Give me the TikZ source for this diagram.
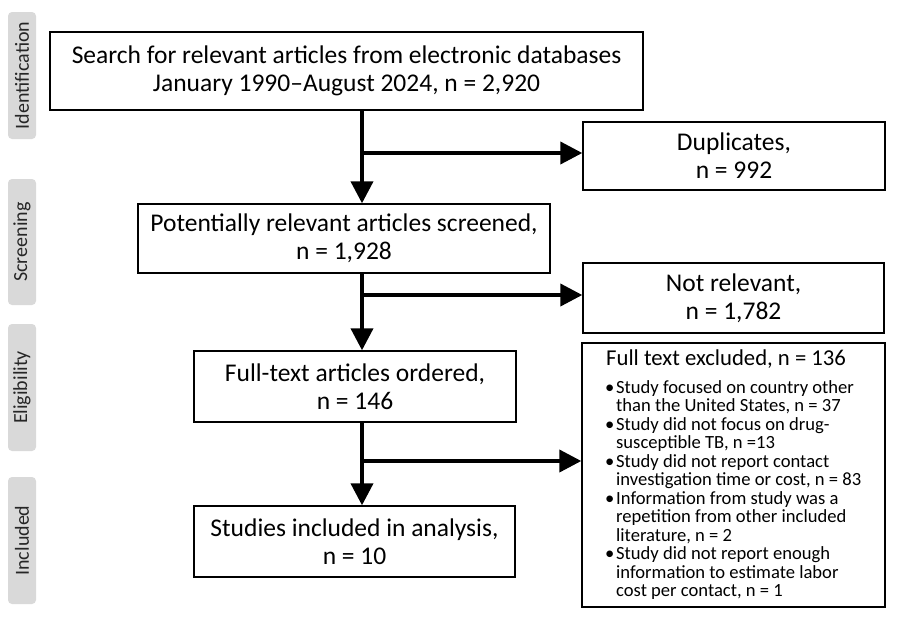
\documentclass[tikz,border=0pt]{standalone}
\usepackage{fontspec}
\setmainfont{Carlito}
\usetikzlibrary{arrows.meta}
\begin{document}
\begin{tikzpicture}[x=1pt,y=-1pt,
  box/.style={draw=black,line width=1.4pt,align=center,font=\fontsize{25.5}{28}\selectfont,inner sep=0pt},
  tab/.style={fill=black!15,rounded corners=4pt,minimum height=28pt,rotate=90,font=\fontsize{20}{22}\selectfont,text=black!85,inner sep=0pt},
  arr/.style={line width=4pt,-{Triangle[length=22pt,width=22pt]}},
  ln/.style={line width=4pt}]
\useasboundingbox (0,0) rectangle (900,619);
\node[tab,minimum width=127pt] (t1) at (22,75.5) {Identification};
\node[tab,minimum width=126pt] (t2) at (22,242) {Screening};
\node[tab,minimum width=127pt] (t3) at (22,387.5) {Eligibility};
\node[tab,minimum width=127pt] (t4) at (22,540.5) {Included};
\node[box,minimum width=593pt,minimum height=78pt] (b1) at (346.5,71) {Search for relevant articles from electronic databases\\January 1990--August 2024, n = 2,920};
\node[box,minimum width=302pt,minimum height=68pt] (d) at (734,156) {Duplicates,\\n = 992};
\node[box,minimum width=412pt,minimum height=69pt] (b2) at (344,238.5) {Potentially relevant articles screened,\\n = 1,928};
\node[box,minimum width=301pt,minimum height=70pt] (nr) at (733.5,298) {Not relevant,\\n = 1,782};
\node[box,minimum width=322pt,minimum height=71pt] (b3) at (355,386.5) {Full-text articles ordered,\\n = 146};
\node[box,minimum width=303pt,minimum height=264pt] (ex) at (733.5,475) {};
\node[box,minimum width=321pt,minimum height=71pt] (b4) at (354.5,541.5) {Studies included in analysis,\\n = 10};
\node[anchor=north west,align=left,inner sep=0pt,font=\fontsize{22.7}{26}\selectfont] (exh) at (606,350) {Full text excluded, n = 136};
\node[anchor=north west,align=left,inner sep=0pt,font=\fontsize{18.6}{18.5}\selectfont] (exl) at (605,380) {%
\makebox[11pt][l]{\textbullet}Study focused on country other\\
\hspace*{11pt}than the United States, n = 37\\
\makebox[11pt][l]{\textbullet}Study did not focus on drug-\\
\hspace*{11pt}susceptible TB, n =13\\
\makebox[11pt][l]{\textbullet}Study did not report contact\\
\hspace*{11pt}investigation time or cost, n = 83\\
\makebox[11pt][l]{\textbullet}Information from study was a\\
\hspace*{11pt}repetition from other included\\
\hspace*{11pt}literature, n = 2\\
\makebox[11pt][l]{\textbullet}Study did not report enough\\
\hspace*{11pt}information to estimate labor\\
\hspace*{11pt}cost per contact, n = 1};
\coordinate (c1) at (362,153);
\coordinate (c2) at (362,295);
\coordinate (c3) at (362,461);
\draw[arr] (b1.south -| c1) -- (b2.north -| c1);
\draw[arr] (b2.south -| c2) -- (b3.north -| c2);
\draw[arr] (b3.south -| c3) -- (b4.north -| c3);
\draw[arr] (c1) -- (c1 -| d.west);
\draw[arr] (c2) -- (c2 -| nr.west);
\draw[arr] (c3) -- (c3 -| ex.west);
\end{tikzpicture}
\end{document}
